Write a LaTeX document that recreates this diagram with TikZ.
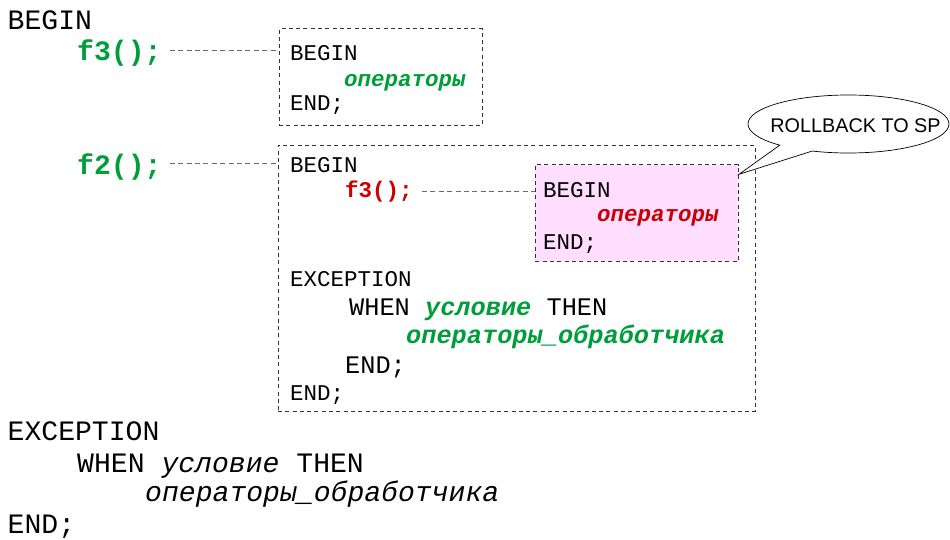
\documentclass[tikz,border=0pt]{standalone}
\usepackage{fontspec}
\setmainfont{Liberation Sans}
\setsansfont{Liberation Sans}
\setmonofont{Liberation Mono}
\usetikzlibrary{shapes.callouts}
\definecolor{cgreen}{RGB}{0,158,58}
\definecolor{cred}{RGB}{204,0,0}
\definecolor{cpink}{RGB}{255,222,255}
\definecolor{cline}{RGB}{50,50,50}
\definecolor{cconn}{RGB}{105,105,105}
\begin{document}
\begin{tikzpicture}[x=1pt,y=-1pt,
  big/.style={anchor=base west, inner sep=0pt, font=\ttfamily\fontsize{28.1}{30}\selectfont},
  small/.style={anchor=base west, inner sep=0pt, font=\ttfamily\fontsize{22.5}{24}\selectfont},
  mid/.style={anchor=base west, inner sep=0pt, font=\ttfamily\fontsize{25.3}{26}\selectfont},
  codebox/.style={draw=cline, dash pattern=on 4pt off 3.3pt, line width=0.8pt, anchor=north west, inner sep=0pt},
  conn/.style={draw=cconn, dash pattern=on 5pt off 3.4pt, line width=0.9pt},
]
\useasboundingbox (0,0) rectangle (950,540);

% boxes
\node[codebox, minimum width=203pt, minimum height=97pt] (box1) at (278.5,28.5) {};
\node[codebox, minimum width=477.5pt, minimum height=266pt] (box2) at (277.5,145) {};
\node[codebox, fill=cpink, minimum width=202.7pt, minimum height=96.7pt] (pink) at (535,164.3) {};

% top-level text
\node[big] (tbegin) at (7.5,30) {BEGIN};
\node[big] (f3a) at (77,61) {\bfseries\color{cgreen}f3();};
\node[big] (f2a) at (77,175) {\bfseries\color{cgreen}f2();};
\node[big] (texc) at (7.5,440) {EXCEPTION};
\node[big] (twhen) at (77,472.7) {WHEN \itshape условие\upshape{} THEN};
\node[big] (tops) at (145,501.7) {\itshape операторы\_обработчика};
\node[big] (tend) at (7.5,533.3) {END;};

% box1 text
\node[small] (b1begin) at (290,61) {BEGIN};
\node[small] (b1ops) at (344,87) {\bfseries\itshape\color{cgreen}операторы};
\node[small] (b1end) at (290,111) {END;};

% box2 text
\node[small] (b2begin) at (290,172.3) {BEGIN};
\node[small] (f3b) at (345,197) {\bfseries\color{cred}f3();};
\node[small] (b2exc) at (290,286.7) {EXCEPTION};
\node[mid] (b2when) at (349,315) {WHEN {\bfseries\itshape\color{cgreen}условие} THEN};
\node[mid] (b2ops) at (406,343) {\bfseries\itshape\color{cgreen}операторы\_обработчика};
\node[mid] (b2iend) at (345,373) {END;};
\node[small] (b2end) at (290,400) {END;};

% pink text
\node[small] (pbegin) at (543,197.3) {BEGIN};
\node[small] (pops) at (597,221.7) {\bfseries\itshape\color{cred}операторы};
\node[small] (pend) at (543,249.3) {END;};

% connectors
\coordinate (c1) at ([shift={(8,-11)}]f3a.base east);
\draw[conn] (c1) -- (c1 -| box1.west);
\coordinate (c2) at ([shift={(8,-11.7)}]f2a.base east);
\draw[conn] (c2) -- (c2 -| box2.west);
\coordinate (c3) at ([shift={(9,-6)}]f3b.base east);
\draw[conn] (c3) -- (c3 -| pink.west);

% callout
\coordinate (tip) at ([shift={(0.5,10)}]pink.north east);
\node[ellipse callout, draw=black, line width=0.7pt, fill=white,
      minimum width=201pt, minimum height=58pt, inner sep=0pt,
      callout absolute pointer=(tip), callout pointer arc=22] (sp) at (848.5,124) {};
\node[inner sep=0pt, anchor=base, font=\sffamily\fontsize{19.8}{20}\selectfont] (sptext) at (855.5,133) {ROLLBACK TO SP};
\end{tikzpicture}
\end{document}
